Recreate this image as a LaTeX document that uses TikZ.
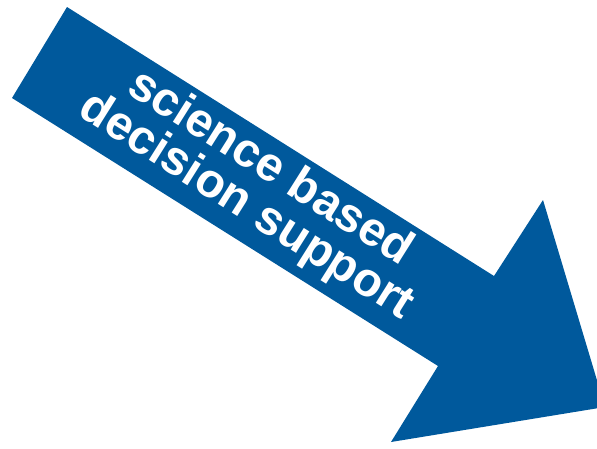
\documentclass[tikz,border=0pt]{standalone}
\usepackage{fontspec}
\setmainfont{Liberation Sans}
\usetikzlibrary{calc}
\definecolor{sbBlue}{HTML}{00599C}
\tikzset{
  bigarrow/.style = {fill=sbBlue, draw=none},
  lbl/.style      = {text=white, font=\bfseries\fontsize{34}{32}\selectfont,
                     align=center, inner sep=0pt},
}

\begin{document}
\begin{tikzpicture}[x=0.025cm, y=-0.025cm]
  \useasboundingbox (0,0) rectangle (597,448);
  \clip (0,0) rectangle (597,448);
  % arrow outline, tail at the upper left, tip past the right edge
  \fill[bigarrow] (67,7) -- (494,276) -- (543,200) -- (605,407)
                  -- (391,442) -- (438,366) -- (12,98) -- cycle;
  \node[lbl, rotate=-32.2] (caption) at (258,188) {science based\\decision support};
\end{tikzpicture}
\end{document}
